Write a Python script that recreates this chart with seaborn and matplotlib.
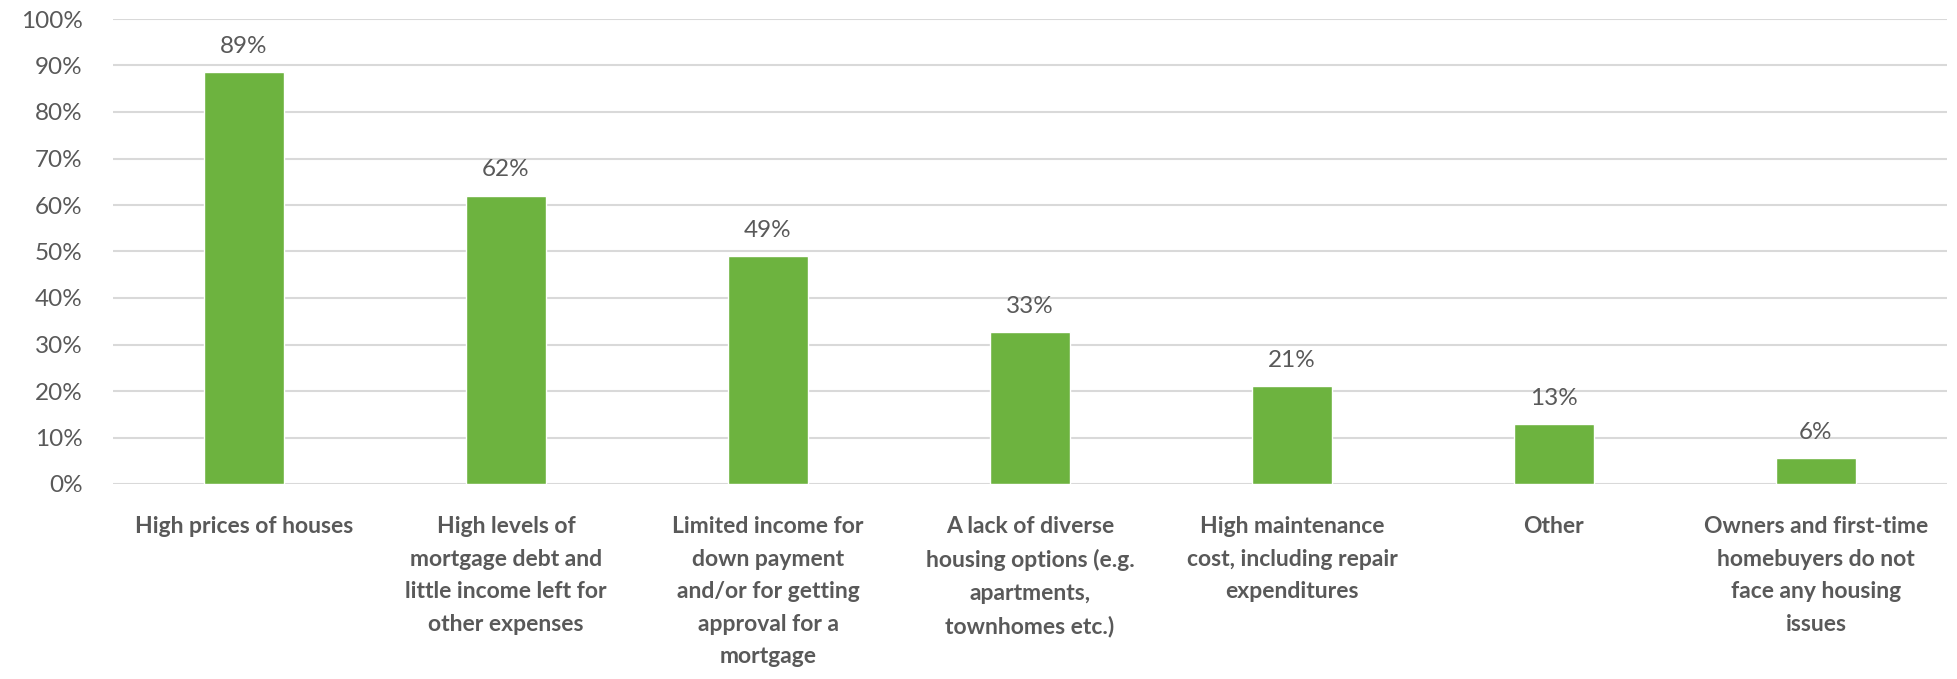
import matplotlib
matplotlib.use("Agg")
import matplotlib.pyplot as plt
import seaborn as sns
import pandas as pd
from matplotlib.ticker import FuncFormatter

categories = [
    "High prices of houses",
    "High levels of\nmortgage debt and\nlittle income left for\nother expenses",
    "Limited income for\ndown payment\nand/or for getting\napproval for a\nmortgage",
    "A lack of diverse\nhousing options (e.g.\napartments,\ntownhomes etc.)",
    "High maintenance\ncost, including repair\nexpenditures",
    "Other",
    "Owners and first-time\nhomebuyers do not\nface any housing\nissues",
]
values = [88.6, 62.0, 49.0, 32.6, 21.1, 12.9, 5.6]
y_ticks = [0, 10, 20, 30, 40, 50, 60, 70, 80, 90, 100]

sns.set_theme(style="white")
plt.rcParams["font.family"] = ["Lato", "DejaVu Sans"]

TEXT = "#595959"
GREEN = "#6DB33F"
GRID = "#D9D9D9"

df = pd.DataFrame({"cat": categories, "val": values})

fig = plt.figure(figsize=(19.57, 6.79), dpi=100)
ax = fig.add_axes([113 / 1957, 1 - 484 / 679, (1947 - 113) / 1957, (484 - 19) / 679])

sns.barplot(data=df, x="cat", y="val", color=GREEN, width=0.305, saturation=1, ax=ax, zorder=3)

ax.set_ylim(0, 100)
ax.set_yticks(y_ticks)
ax.yaxis.set_major_formatter(FuncFormatter(lambda v, p: f"{v:.0f}%"))
ax.grid(axis="y", color=GRID, linewidth=1.5, zorder=0)
ax.grid(axis="x", visible=False)
for s in ["top", "right", "left", "bottom"]:
    ax.spines[s].set_visible(False)
ax.set_xlabel("")
ax.set_ylabel("")
ax.tick_params(axis="y", length=0, pad=22, labelsize=17.5, labelcolor=TEXT)
ax.tick_params(axis="x", length=0, pad=23, labelsize=16.5, labelcolor=TEXT)
for lbl in ax.get_xticklabels():
    lbl.set_fontweight("bold")
    lbl.set_linespacing(1.68)
    lbl.set_verticalalignment("top")
    lbl.set_horizontalalignment("center")

for p, v in zip(ax.patches, values):
    ax.annotate(f"{v:.0f}%", (p.get_x() + p.get_width() / 2, p.get_height()),
                xytext=(0, 11), textcoords="offset points", ha="center", va="bottom",
                fontsize=17.5, color=TEXT)

fig.savefig("out.png", dpi=100)
